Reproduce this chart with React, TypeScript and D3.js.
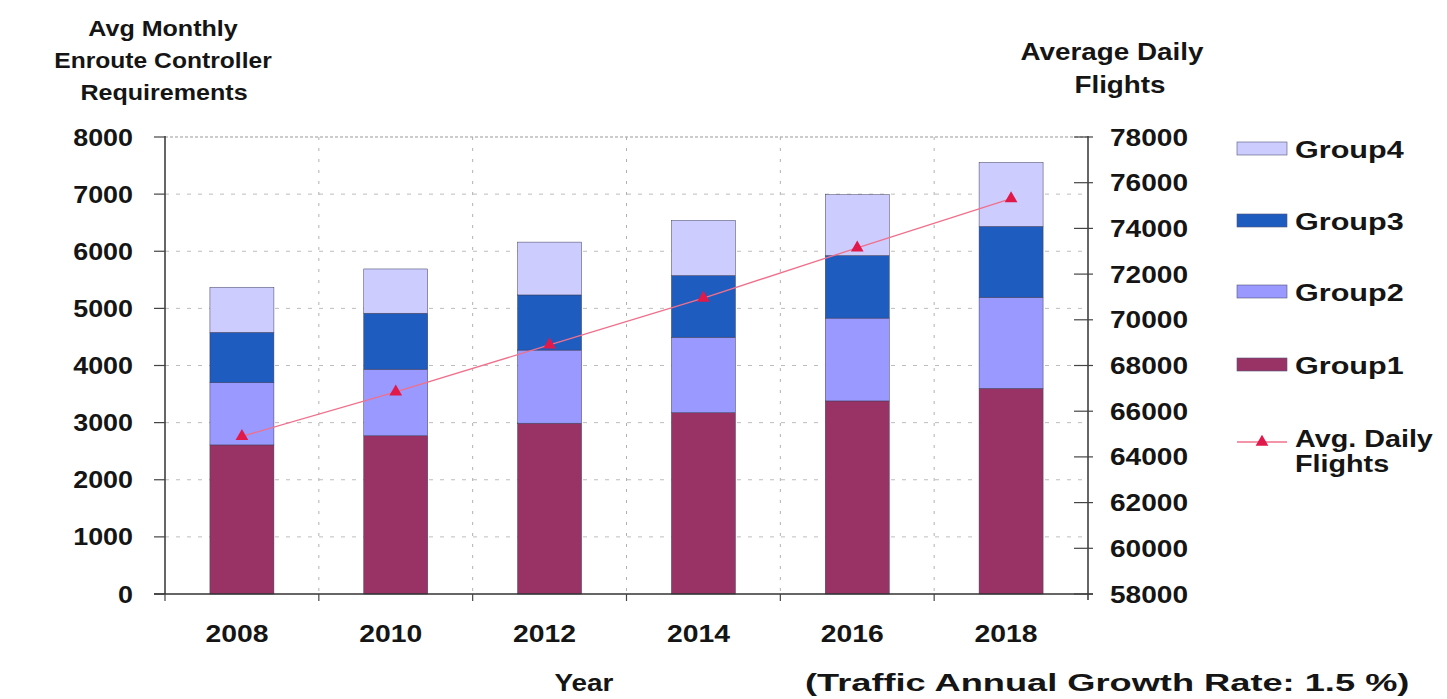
import React from "react";
import * as d3 from "d3";

const years = ["2008", "2010", "2012", "2014", "2016", "2018"];
const group1 = [2610, 2770, 2990, 3175, 3380, 3600];
const group2 = [1090, 1165, 1280, 1320, 1450, 1595];
const group3 = [880, 980, 965, 1080, 1095, 1240];
const group4 = [790, 775, 925, 965, 1065, 1120];
const flights = [64900, 66850, 68900, 70950, 73150, 75300];
const leftTicks = [0, 1000, 2000, 3000, 4000, 5000, 6000, 7000, 8000];
const rightTicks = [58000, 60000, 62000, 64000, 66000, 68000, 70000, 72000, 74000, 76000, 78000];
const seriesNames = ["Group1", "Group2", "Group3", "Group4"];
const seriesColors = ["#993366", "#9999FF", "#1E5CC0", "#CCCCFF"];

const FONT = "'Liberation Sans', Arial, sans-serif";

function T({ x, y, sx = 1, anchor = "start", size = 22, children }: any) {
  return (
    <text
      transform={`translate(${x},${y}) scale(${sx},1)`}
      textAnchor={anchor}
      fontSize={size}
      fontWeight="bold"
      fontFamily={FONT}
      fill="#151515"
    >
      {children}
    </text>
  );
}

export default function App() {
  const W = 1447, H = 699;
  const L = 165, R = 1088, TOP = 137, BOT = 594;
  const x = d3.scaleBand<string>().domain(years).range([L, R]).paddingInner(0.584).paddingOuter(0.292);
  const yL = d3.scaleLinear().domain([0, 8000]).range([BOT, TOP]);
  const yR = d3.scaleLinear().domain([58000, 78000]).range([BOT, TOP]);
  const step = x.step();
  const cx = (y: string) => (x(y) as number) + x.bandwidth() / 2;

  const table = years.map((yr, i) => ({ year: yr, Group1: group1[i], Group2: group2[i], Group3: group3[i], Group4: group4[i] }));
  const stacked = d3.stack<any>().keys(seriesNames)(table);

  const line = d3.line<number>().x((_, i) => cx(years[i])).y((d) => yR(d));
  const tri = d3.symbol().type(d3.symbolTriangle).size(70)() as string;

  const boundaries = d3.range(1, years.length).map((i) => L + i * step);

  const legendItems = [
    { name: "Group4", color: seriesColors[3], y: 149 },
    { name: "Group3", color: seriesColors[2], y: 221 },
    { name: "Group2", color: seriesColors[1], y: 292 },
    { name: "Group1", color: seriesColors[0], y: 365 },
  ];

  return (
    <svg width={W} height={H} style={{ position: "absolute", left: 0, top: 0, display: "block", background: "#fff" }}>
      {/* gridlines */}
      {leftTicks.filter((t) => t > 0 && t < 8000).map((t) => (
        <line key={"hg" + t} x1={L} x2={R} y1={yL(t)} y2={yL(t)} stroke="#bdbdbd" strokeWidth={1} strokeDasharray="4,7" />
      ))}
      <line x1={L} x2={R} y1={yL(8000)} y2={yL(8000)} stroke="#9a9a9a" strokeWidth={1.2} strokeDasharray="3,2" />
      {boundaries.map((b, i) => (
        <line key={"vg" + i} x1={b} x2={b} y1={TOP} y2={BOT} stroke="#b0b0b0" strokeWidth={1} strokeDasharray="3,8" />
      ))}

      {/* bars */}
      {stacked.map((s, si) => (
        <g key={s.key}>
          {s.map((d: any, i: number) => (
            <rect
              key={i}
              x={x(years[i])}
              width={x.bandwidth()}
              y={yL(d[1])}
              height={yL(d[0]) - yL(d[1])}
              fill={seriesColors[si]}
              stroke="#3d3d5c"
              strokeWidth={0.5}
            />
          ))}
        </g>
      ))}

      {/* line */}
      <path d={line(flights) as string} fill="none" stroke="#F0708C" strokeWidth={1.3} />
      {flights.map((f, i) => (
        <path key={"m" + i} d={tri} transform={`translate(${cx(years[i])},${yR(f)})`} fill="#E0194A" />
      ))}

      {/* axes */}
      <line x1={L} x2={L} y1={TOP - 1} y2={BOT} stroke="#333" strokeWidth={1.5} />
      {leftTicks.map((t) => (
        <line key={"lt" + t} x1={L - 11} x2={L} y1={yL(t)} y2={yL(t)} stroke="#444" strokeWidth={1.2} />
      ))}
      <line x1={L - 11} x2={R + 5} y1={BOT} y2={BOT} stroke="#333" strokeWidth={1.5} />
      {[L, ...boundaries].map((b, i) => (
        <line key={"bt" + i} x1={b} x2={b} y1={BOT} y2={BOT + 7} stroke="#444" strokeWidth={1.2} />
      ))}
      <line x1={R} x2={R} y1={TOP - 1} y2={BOT + 6} stroke="#333" strokeWidth={1.5} />
      {rightTicks.map((t) => (
        <line key={"rt" + t} x1={R - 14} x2={R + 5} y1={yR(t)} y2={yR(t)} stroke="#444" strokeWidth={1.2} />
      ))}

      {/* tick labels */}
      {leftTicks.map((t) => (
        <T key={"ll" + t} x={133} y={yL(t) + 8.5} anchor="end" size={24} sx={1.12}>{t}</T>
      ))}
      {rightTicks.map((t) => (
        <T key={"rl" + t} x={1110} y={yR(t) + 8.5} anchor="start" size={24} sx={1.17}>{t}</T>
      ))}
      {years.map((yr) => (
        <T key={"xl" + yr} x={cx(yr) - 5} y={642} anchor="middle" size={24} sx={1.18}>{yr}</T>
      ))}

      {/* titles */}
      <T x={163} y={36} anchor="middle" size={22} sx={1.14}>Avg Monthly</T>
      <T x={163} y={68} anchor="middle" size={22} sx={1.12}>Enroute Controller</T>
      <T x={164} y={100} anchor="middle" size={22} sx={1.14}>Requirements</T>
      <T x={1112} y={60} anchor="middle" size={23} sx={1.21}>Average Daily</T>
      <T x={1120} y={93} anchor="middle" size={23} sx={1.21}>Flights</T>
      <T x={584} y={691} anchor="middle" size={24} sx={1.16}>Year</T>
      <T x={805} y={691} anchor="start" size={24} sx={1.51}>(Traffic Annual Growth Rate: 1.5 %)</T>

      {/* legend */}
      {legendItems.map((it) => (
        <g key={it.name}>
          <rect x={1237} y={it.y - 7} width={50} height={13} fill={it.color} stroke="#55557a" strokeWidth={0.6} />
          <T x={1295} y={it.y + 9} size={23} sx={1.33}>{it.name}</T>
        </g>
      ))}
      <line x1={1237} x2={1287} y1={442} y2={442} stroke="#F0708C" strokeWidth={1.3} />
      <path d={tri} transform="translate(1262,442)" fill="#E0194A" />
      <T x={1295} y={447} size={23} sx={1.25}>Avg. Daily</T>
      <T x={1295} y={472} size={23} sx={1.25}>Flights</T>
    </svg>
  );
}
